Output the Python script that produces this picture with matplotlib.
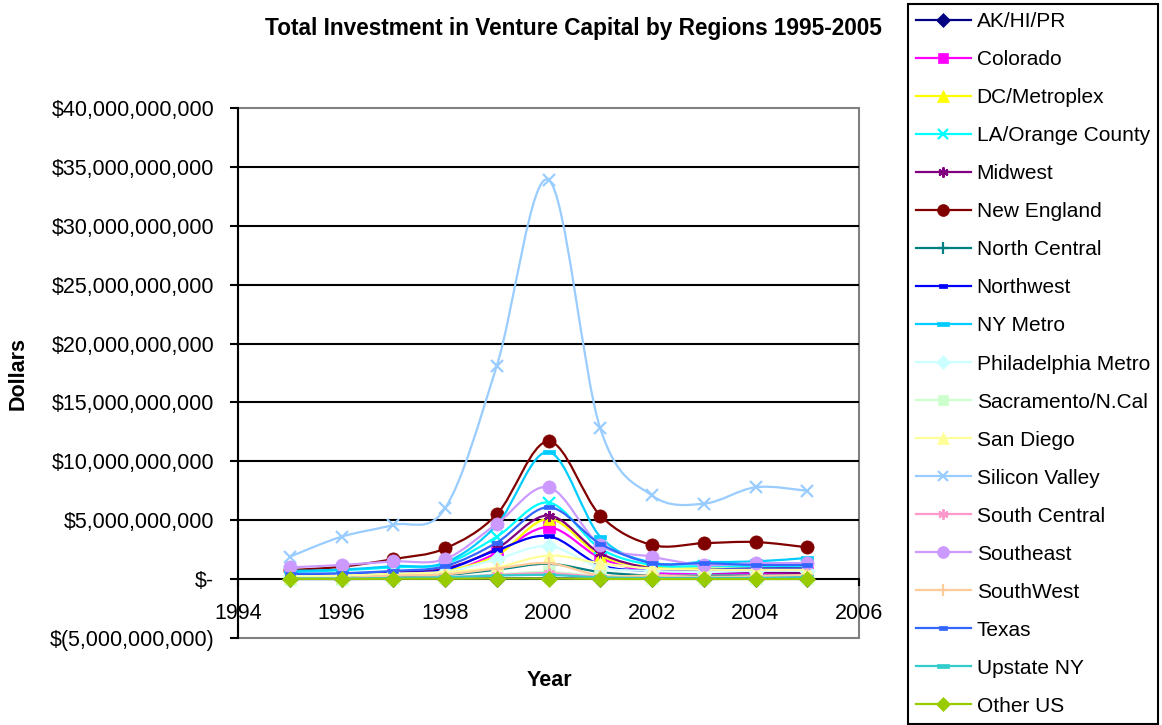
import numpy as np
import matplotlib
matplotlib.use("Agg")
import matplotlib.pyplot as plt
from matplotlib.path import Path
from matplotlib.patches import PathPatch, Rectangle
from matplotlib.lines import Line2D
from matplotlib.ticker import FuncFormatter, MultipleLocator

plt.rcParams['font.family'] = ['Liberation Sans', 'DejaVu Sans']

years = [1995, 1996, 1997, 1998, 1999, 2000, 2001, 2002, 2003, 2004, 2005]

# values in billions of dollars
ak_hi_pr = [0.01, 0.01, 0.02, 0.02, 0.05, 0.06, 0.03, 0.02, 0.02, 0.02, 0.02]
colorado = [0.15, 0.2, 0.35, 0.5, 2.2, 4.4, 1.8, 0.6, 0.5, 0.5, 0.5]
dc_metroplex = [0.25, 0.3, 0.45, 0.7, 2.0, 5.1, 2.0, 1.0, 0.9, 0.9, 1.0]
la_orange = [0.6, 0.75, 1.0, 1.3, 3.6, 6.5, 2.6, 1.2, 1.1, 1.1, 1.1]
midwest = [0.35, 0.4, 0.6, 0.9, 2.6, 5.4, 2.2, 0.9, 0.6, 0.6, 0.5]
new_england = [0.76, 1.05, 1.7, 2.6, 5.5, 11.7, 5.4, 2.9, 3.05, 3.15, 2.7]
north_central = [0.1, 0.15, 0.25, 0.35, 0.8, 1.3, 0.6, 0.3, 0.3, 0.3, 0.3]
northwest = [0.35, 0.4, 0.5, 0.8, 2.45, 3.65, 1.2, 0.7, 0.8, 0.9, 0.9]
ny_metro = [0.7, 0.8, 1.1, 1.4, 4.6, 10.8, 3.6, 1.4, 1.45, 1.5, 1.8]
philadelphia = [0.25, 0.3, 0.45, 0.6, 1.7, 2.8, 1.0, 0.7, 0.6, 0.7, 0.7]
sacramento = [0.05, 0.05, 0.1, 0.15, 0.4, 0.6, 0.25, 0.1, 0.1, 0.1, 0.1]
san_diego = [0.2, 0.3, 0.45, 0.6, 1.0, 2.0, 1.35, 0.9, 0.8, 0.8, 0.8]
silicon_valley = [1.9, 3.6, 4.6, 6.0, 18.1, 33.9, 12.8, 7.1, 6.4, 7.8, 7.5]
south_central = [0.05, 0.05, 0.1, 0.15, 0.35, 0.5, 0.2, 0.1, 0.1, 0.1, 0.1]
southeast = [1.0, 1.2, 1.5, 1.7, 4.7, 7.8, 2.9, 1.9, 1.2, 1.35, 1.35]
southwest = [0.05, 0.1, 0.3, 0.4, 0.9, 1.35, 0.3, 0.3, 0.2, 0.25, 0.35]
texas = [0.45, 0.5, 0.7, 1.1, 3.1, 6.1, 3.0, 1.35, 1.35, 1.2, 1.2]
upstate_ny = [0.05, 0.05, 0.1, 0.15, 0.3, 0.35, 0.15, 0.1, 0.1, 0.1, 0.15]
other_us = [0.02, 0.02, 0.03, 0.03, 0.05, 0.05, 0.02, 0.01, 0.01, 0.01, 0.01]

names = ["AK/HI/PR", "Colorado", "DC/Metroplex", "LA/Orange County", "Midwest",
         "New England", "North Central", "Northwest", "NY Metro",
         "Philadelphia Metro", "Sacramento/N.Cal", "San Diego", "Silicon Valley",
         "South Central", "Southeast", "SouthWest", "Texas", "Upstate NY", "Other US"]
series = [ak_hi_pr, colorado, dc_metroplex, la_orange, midwest, new_england,
          north_central, northwest, ny_metro, philadelphia, sacramento, san_diego,
          silicon_valley, south_central, southeast, southwest, texas, upstate_ny,
          other_us]

colors = ["#000080", "#FF00FF", "#FFFF00", "#00FFFF", "#800080", "#800000",
          "#008080", "#0000FF", "#00CCFF", "#CCFFFF", "#CCFFCC", "#FFFF99",
          "#99CCFF", "#FF99CC", "#CC99FF", "#FFCC99", "#3366FF", "#33CCCC",
          "#99CC00"]

dash = Path([(-1, -0.35), (1, -0.35), (1, 0.35), (-1, 0.35), (-1, -0.35)],
            [Path.MOVETO, Path.LINETO, Path.LINETO, Path.LINETO, Path.CLOSEPOLY])
asterisk = (6, 2, 0)
markers = ["D", "s", "^", "x", asterisk, "o", "+", dash, dash, "D", "s", "^",
           "x", asterisk, "o", "+", dash, dash, "D"]
msizes = [8, 8, 9, 8, 8, 9.5, 9, 7, 9, 8, 8, 9, 8, 8, 9.5, 9, 7, 9, 8]


def smooth_path(x, y):
    pts = np.column_stack([np.asarray(x, float), np.asarray(y, float)])
    n = len(pts)
    verts = [pts[0]]
    codes = [Path.MOVETO]
    for i in range(n - 1):
        p0 = pts[max(i - 1, 0)]
        p1 = pts[i]
        p2 = pts[i + 1]
        p3 = pts[min(i + 2, n - 1)]
        c1 = p1 + (p2 - p0) / 6.0
        c2 = p2 - (p3 - p1) / 6.0
        verts += [c1, c2, p2]
        codes += [Path.CURVE4] * 3
    return Path(verts, codes)


W, H = 1162, 725
fig = plt.figure(figsize=(W / 100, H / 100), dpi=100)
ax = fig.add_axes([238 / W, 1 - 638 / H, (859 - 238) / W, (638 - 108) / H])

handles = []
for i, (name, vals, c, m, ms) in enumerate(zip(names, series, colors, markers, msizes)):
    yv = np.asarray(vals) * 1e9
    z = 2 + i * 0.05
    patch = PathPatch(smooth_path(years, yv), fill=False, edgecolor=c, lw=1.6,
                      zorder=z)
    ax.add_patch(patch)
    mew = 1.6 if m in ("x", "+", asterisk) else 0.5
    ax.plot(years, yv, ls="none", marker=m, ms=ms, color=c, mec=c, mew=mew,
            zorder=z + 0.01)
    handles.append(Line2D([], [], color=c, lw=1.6, marker=m, ms=ms * 0.9,
                          mec=c, mew=mew, label=name))

ax.set_xlim(1994, 2006)
ax.set_ylim(-5e9, 40e9)
ax.xaxis.set_major_locator(MultipleLocator(2))
ax.yaxis.set_major_locator(MultipleLocator(5e9))


def money(v, pos):
    b = int(round(v))
    if b == 0:
        return "$-"
    if b < 0:
        return "$({:,})".format(-b)
    return "${:,}".format(b)


ax.yaxis.set_major_formatter(FuncFormatter(money))
ax.xaxis.set_major_formatter(FuncFormatter(lambda v, p: "{:d}".format(int(round(v)))))

for yv in np.arange(5e9, 40e9, 5e9):
    ax.axhline(yv, color="black", lw=1.5, zorder=1)

for s in ("top", "right"):
    ax.spines[s].set_visible(False)
ax.spines["bottom"].set_position(("data", 0))
ax.spines["bottom"].set_color("black")
ax.spines["bottom"].set_linewidth(1.5)
ax.spines["bottom"].set_zorder(1.5)
ax.spines["left"].set_color("black")
ax.spines["left"].set_linewidth(1.5)
ax.add_patch(Rectangle((0, 0), 1, 1, transform=ax.transAxes, fill=False,
                       edgecolor="#808080", lw=1.5, zorder=0.5, clip_on=False))

ax.tick_params(axis="y", direction="out", length=6, width=1.5, pad=11,
               labelsize=15.5)
ax.tick_params(axis="x", direction="out", length=5, width=1.5, pad=12.5,
               labelsize=15.5)

fig.text(18 / W, 1 - 373 / H, "Dollars", fontsize=15.5, fontweight="bold",
         rotation=90, ha="center", va="center")
fig.text(549 / W, 1 - 680 / H, "Year", fontsize=15.5, fontweight="bold",
         ha="center", va="center")
fig.text(573 / W, 1 - 28 / H,
         "Total Investment in Venture Capital by Regions 1995-2005",
         fontsize=16.3, fontweight="bold", ha="center", va="center")

leg = fig.legend(handles=handles, loc="upper left",
                 bbox_to_anchor=(908 / W, 1 - 4 / H), borderaxespad=0,
                 fontsize=15, handlelength=2.6, handletextpad=0.3,
                 labelspacing=0.913, borderpad=0.4, fancybox=False,
                 frameon=True, edgecolor="black", framealpha=1)
leg.get_frame().set_linewidth(1.5)

fig.savefig("out.png", dpi=100)
